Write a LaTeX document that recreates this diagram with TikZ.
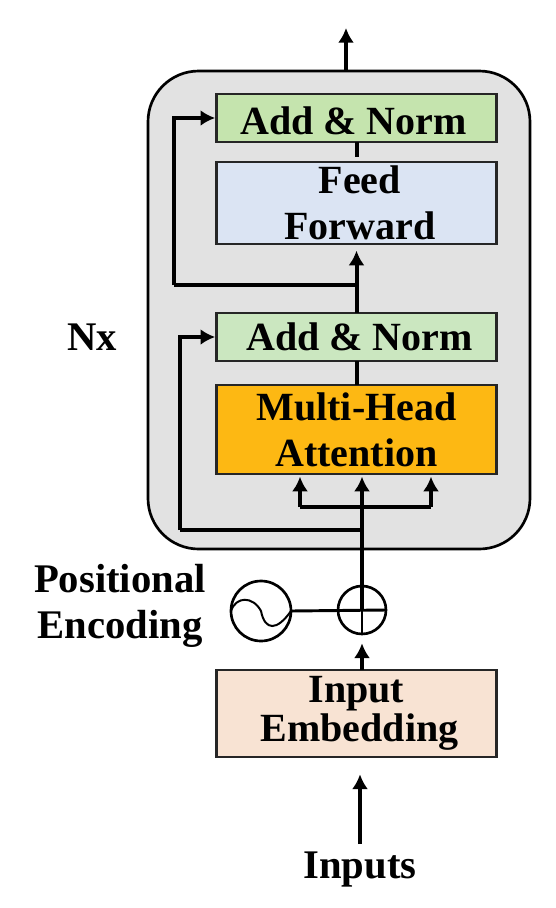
\documentclass[tikz,border=0pt]{standalone}
\usepackage{fontspec}
\setmainfont{Liberation Serif}
\usepackage{xcolor}
\usetikzlibrary{arrows.meta,positioning}
\definecolor{tfgray}{RGB}{226,226,226}
\definecolor{tfgreen}{RGB}{197,228,174}
\definecolor{tfmint}{RGB}{203,231,192}
\definecolor{tfblue}{RGB}{219,228,243}
\definecolor{tforange}{RGB}{253,184,19}
\definecolor{tfpeach}{RGB}{248,227,211}
\tikzset{
  tfbox/.style={draw=black!85, line width=1.6pt, align=center, minimum width=210pt,
    inner sep=0pt, outer sep=0pt, font=\fontsize{30}{34.5}\selectfont\bfseries},
  tflabel/.style={align=center, inner sep=0pt, font=\fontsize{30.5}{34.5}\selectfont\bfseries},
  tfline/.style={line width=3pt, draw=black},
  tfarr/.style={-{Latex[length=11pt,width=12pt]}, line width=3pt, draw=black},
  tfring/.style={circle, draw=black, line width=2pt, inner sep=0pt, outer sep=0pt}
}
\begin{document}
\begin{tikzpicture}[x=0.75pt, y=-0.75pt]
\useasboundingbox (0,0) rectangle (556,908);
\node[draw=black, line width=2pt, fill=tfgray, rounded corners=38pt, minimum width=286.5pt,
  minimum height=358.5pt, outer sep=0pt] (stack) at (339,310) {};
\node[tfbox, fill=tfpeach, minimum height=65.25pt, font=\fontsize{30}{29.5}\selectfont\bfseries] (embed) at (356.5,713.5) {Input\\\hspace{4.5pt}Embedding};
\node[tfbox, fill=tforange, minimum height=66.75pt, above=147pt of embed] (mha) {Multi-Head\\Attention};
\node[tfbox, fill=tfmint, minimum height=36pt, above=18pt of mha] (norma) {\hspace{4.5pt}Add \& Norm};
\node[tfbox, fill=tfblue, minimum height=61.5pt, above=51.75pt of norma] (ffn) {\hspace{5pt}Feed\\\hspace{5pt}Forward};
\node[tfbox, fill=tfgreen, minimum height=36pt, text height=24pt, text depth=0pt, above=15pt of ffn] (normb) {Add \& Norm\hspace{4.5pt}};
\node[tfring, minimum size=36pt] (plus) at (362,610) {};
\node[tfring, minimum size=45pt] (sine) at (261,611) {};
\node[tflabel] (nx) at (92,337) {Nx};
\node[tflabel] (posenc) at (120,606) {Positional\\Encoding};
\node[tflabel] (inputs) at (360,870) {Inputs};
\coordinate (out) at (346,28);
\coordinate (resb) at (174,285);
\coordinate (resa) at (180,530);
\coordinate (splitl) at (300,507);
\coordinate (splitr) at (431,507);
\draw[tfarr] (out |- stack.north) -- (out);
\draw[tfline, shorten >=4pt] (normb.south) -- (ffn.north);
\draw[tfarr, shorten >=5pt] (norma.north) -- (ffn.south);
\draw[tfline] (norma.south) -- (mha.north);
\draw[tfarr, shorten >=1pt] (resb) |- (normb.west);
\draw[tfline] (resb) -- (norma.north |- resb);
\draw[tfarr, shorten >=1pt] (resa) |- (norma.west);
\draw[tfline] (resa) -- (plus.north |- resa);
\draw[tfarr, shorten >=2pt] (plus.center) -- (plus.center |- mha.south);
\draw[tfarr, shorten >=2pt] (splitl) -- (splitl |- mha.south);
\draw[tfarr, shorten >=2pt] (splitr) -- (splitr |- mha.south);
\draw[tfline] (splitl) -- (splitr);
\draw[tfline, line width=2.2pt] (plus.north) -- (plus.south);
\draw[tfline, line width=2.2pt] (sine.east) -- (plus.east);
\draw[line width=1.5pt] (sine.west) .. controls +(5,-15) and +(-8,-15) .. (sine.center) .. controls +(4,20) and +(-14,20) .. (sine.east);
\draw[tfarr, shorten >=7pt] (plus.south |- embed.north) -- (plus.south);
\draw[tfarr, shorten <=6pt, shorten >=13pt] (inputs.north) -- (inputs.north |- embed.south);
\end{tikzpicture}
\end{document}
